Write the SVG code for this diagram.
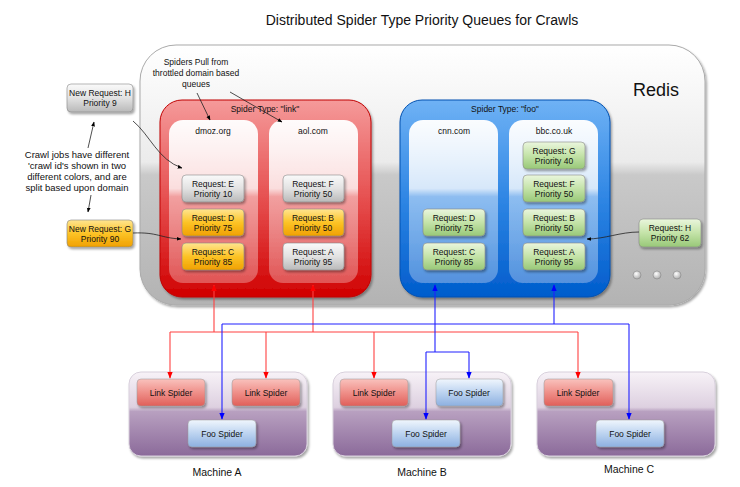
<svg xmlns="http://www.w3.org/2000/svg" width="740" height="487" viewBox="0 0 740 487">
<defs>
<linearGradient id="gRedis" x1="0" y1="0" x2="0" y2="1">
<stop offset="0" stop-color="#ffffff"/><stop offset="0.45" stop-color="#ebebeb"/><stop offset="0.5" stop-color="#c9c9c9"/><stop offset="1" stop-color="#b3b3b3"/>
</linearGradient>
<linearGradient id="gRed" x1="0" y1="0" x2="0" y2="1">
<stop offset="0" stop-color="#f59a9a"/><stop offset="0.5" stop-color="#e65050"/><stop offset="1" stop-color="#d00000"/>
</linearGradient>
<linearGradient id="gBlue" x1="0" y1="0" x2="0" y2="1">
<stop offset="0" stop-color="#6fb2f5"/><stop offset="0.5" stop-color="#2f86e4"/><stop offset="1" stop-color="#005ccc"/>
</linearGradient>
<linearGradient id="gCol" x1="0" y1="0" x2="0" y2="1">
<stop offset="0" stop-color="#ffffff" stop-opacity="0.97"/><stop offset="0.42" stop-color="#ffffff" stop-opacity="0.8"/><stop offset="0.47" stop-color="#ffffff" stop-opacity="0.45"/><stop offset="1" stop-color="#ffffff" stop-opacity="0.3"/>
</linearGradient>
<linearGradient id="gGray" x1="0" y1="0" x2="0" y2="1">
<stop offset="0" stop-color="#fafafa"/><stop offset="0.5" stop-color="#e2e2e2"/><stop offset="1" stop-color="#b9b9b9"/>
</linearGradient>
<linearGradient id="gOrange" x1="0" y1="0" x2="0" y2="1">
<stop offset="0" stop-color="#ffe590"/><stop offset="0.5" stop-color="#fcc326"/><stop offset="1" stop-color="#f0a000"/>
</linearGradient>
<linearGradient id="gGreen" x1="0" y1="0" x2="0" y2="1">
<stop offset="0" stop-color="#eaf6dd"/><stop offset="0.5" stop-color="#c4e3a8"/><stop offset="1" stop-color="#98c878"/>
</linearGradient>
<linearGradient id="gMach" x1="0" y1="0" x2="0" y2="1">
<stop offset="0" stop-color="#f7f2f7"/><stop offset="0.42" stop-color="#ddd0e0"/><stop offset="0.47" stop-color="#b8a0c0"/><stop offset="1" stop-color="#8b6a9a"/>
</linearGradient>
<linearGradient id="gLink" x1="0" y1="0" x2="0" y2="1">
<stop offset="0" stop-color="#f9c2bd"/><stop offset="0.5" stop-color="#ef8f89"/><stop offset="1" stop-color="#e05f59"/>
</linearGradient>
<linearGradient id="gFoo" x1="0" y1="0" x2="0" y2="1">
<stop offset="0" stop-color="#f0f6fd"/><stop offset="0.5" stop-color="#bcd3f0"/><stop offset="1" stop-color="#8db0e0"/>
</linearGradient>
<radialGradient id="gDot" cx="0.4" cy="0.35" r="0.7">
<stop offset="0" stop-color="#ffffff"/><stop offset="1" stop-color="#a8a8a8"/>
</radialGradient>
<filter id="sh" x="-10%" y="-10%" width="130%" height="140%">
<feDropShadow dx="1.5" dy="2" stdDeviation="1.2" flood-color="#000" flood-opacity="0.35"/>
</filter>
<marker id="aBk" viewBox="0 0 10 10" refX="9" refY="5" markerWidth="6" markerHeight="6" orient="auto-start-reverse"><path d="M0,1 L10,5 L0,9 z" fill="#000"/></marker>
<marker id="aRd" viewBox="0 0 10 10" refX="9" refY="5" markerWidth="6" markerHeight="6" orient="auto-start-reverse"><path d="M0,1 L10,5 L0,9 z" fill="#ff0000"/></marker>
<marker id="aBl" viewBox="0 0 10 10" refX="9" refY="5" markerWidth="6" markerHeight="6" orient="auto-start-reverse"><path d="M0,1 L10,5 L0,9 z" fill="#0000ff"/></marker>
</defs>
<style>
text{font-family:"Liberation Sans",Arial,sans-serif;fill:#111;text-anchor:middle}
.t8{font-size:8.5px}
.t9{font-size:9.5px}
.req{stroke:#888;stroke-width:0.6;filter:url(#sh)}
.sp{stroke:#999;stroke-width:0.5;filter:url(#sh)}
.red{fill:none;stroke:#ff4040;stroke-width:1.1}
.blue{fill:none;stroke:#2020ff;stroke-width:1.1}
.blk{fill:none;stroke:#222;stroke-width:0.8}
</style>
<rect width="740" height="487" fill="#ffffff"/>
<text x="422" y="25" style="font-size:14px">Distributed Spider Type Priority Queues for Crawls</text>

<g id="redis">
<rect x="140" y="45" width="565" height="260" rx="36" fill="url(#gRedis)" stroke="#aaa" stroke-width="1" filter="url(#sh)"/>
<text x="656" y="96" style="font-size:18px">Redis</text>
<circle cx="637" cy="275" r="4" fill="url(#gDot)" stroke="#888" stroke-width="0.6"/>
<circle cx="657" cy="275" r="4" fill="url(#gDot)" stroke="#888" stroke-width="0.6"/>
<circle cx="677" cy="275" r="4" fill="url(#gDot)" stroke="#888" stroke-width="0.6"/>
</g>

<g id="link-panel">
<rect x="160" y="100" width="211" height="197" rx="22" fill="url(#gRed)" stroke="#c00000" stroke-width="1" filter="url(#sh)"/>
<text x="265" y="112" class="t8">Spider Type: "link"</text>
<rect x="169" y="120" width="89" height="163" rx="14" fill="url(#gCol)"/>
<text x="213" y="134" class="t8">dmoz.org</text>
<rect x="269" y="120" width="89" height="163" rx="14" fill="url(#gCol)"/>
<text x="313" y="134" class="t8">aol.com</text>
</g>
<g id="req-dmoz-E"><rect x="182" y="175" width="62" height="27" rx="4" fill="url(#gGray)" class="req"/><text x="213" y="187" class="t8">Request: E</text><text x="213" y="197" class="t8">Priority 10</text></g>
<g id="req-dmoz-D"><rect x="182" y="209" width="62" height="27" rx="4" fill="url(#gOrange)" class="req"/><text x="213" y="221" class="t8">Request: D</text><text x="213" y="231" class="t8">Priority 75</text></g>
<g id="req-dmoz-C"><rect x="182" y="243" width="62" height="27" rx="4" fill="url(#gOrange)" class="req"/><text x="213" y="255" class="t8">Request: C</text><text x="213" y="265" class="t8">Priority 85</text></g>
<g id="req-aol-F"><rect x="283" y="175" width="61" height="27" rx="4" fill="url(#gGray)" class="req"/><text x="313" y="187" class="t8">Request: F</text><text x="313" y="197" class="t8">Priority 50</text></g>
<g id="req-aol-B"><rect x="283" y="209" width="61" height="27" rx="4" fill="url(#gOrange)" class="req"/><text x="313" y="221" class="t8">Request: B</text><text x="313" y="231" class="t8">Priority 50</text></g>
<g id="req-aol-A"><rect x="283" y="243" width="61" height="27" rx="4" fill="url(#gGray)" class="req"/><text x="313" y="255" class="t8">Request: A</text><text x="313" y="265" class="t8">Priority 95</text></g>

<g id="foo-panel">
<rect x="400" y="100" width="210" height="197" rx="22" fill="url(#gBlue)" stroke="#0050b0" stroke-width="1" filter="url(#sh)"/>
<text x="505" y="112" class="t8">Spider Type: "foo"</text>
<rect x="409" y="120" width="89" height="163" rx="14" fill="url(#gCol)"/>
<text x="454" y="134" class="t8">cnn.com</text>
<rect x="509" y="120" width="89" height="163" rx="14" fill="url(#gCol)"/>
<text x="554" y="134" class="t8">bbc.co.uk</text>
</g>
<g id="req-cnn-D"><rect x="423" y="209" width="62" height="27" rx="4" fill="url(#gGreen)" class="req"/><text x="454" y="221" class="t8">Request: D</text><text x="454" y="231" class="t8">Priority 75</text></g>
<g id="req-cnn-C"><rect x="423" y="243" width="62" height="27" rx="4" fill="url(#gGreen)" class="req"/><text x="454" y="255" class="t8">Request: C</text><text x="454" y="265" class="t8">Priority 85</text></g>
<g id="req-bbc-G"><rect x="523" y="142" width="62" height="27" rx="4" fill="url(#gGreen)" class="req"/><text x="554" y="154" class="t8">Request: G</text><text x="554" y="164" class="t8">Priority 40</text></g>
<g id="req-bbc-F"><rect x="523" y="175" width="62" height="27" rx="4" fill="url(#gGreen)" class="req"/><text x="554" y="187" class="t8">Request: F</text><text x="554" y="197" class="t8">Priority 50</text></g>
<g id="req-bbc-B"><rect x="523" y="209" width="62" height="27" rx="4" fill="url(#gGreen)" class="req"/><text x="554" y="221" class="t8">Request: B</text><text x="554" y="231" class="t8">Priority 50</text></g>
<g id="req-bbc-A"><rect x="523" y="243" width="62" height="27" rx="4" fill="url(#gGreen)" class="req"/><text x="554" y="255" class="t8">Request: A</text><text x="554" y="265" class="t8">Priority 95</text></g>

<g id="req-H-right"><rect x="639" y="219" width="62" height="28" rx="4" fill="url(#gGreen)" class="req"/><text x="670" y="231" class="t8">Request: H</text><text x="670" y="241" class="t8">Priority 62</text></g>
<g id="new-req-H"><rect x="67" y="84" width="66" height="28" rx="4" fill="url(#gGray)" class="req"/><text x="100" y="96" class="t8">New Request: H</text><text x="100" y="106" class="t8">Priority 9</text></g>
<g id="new-req-G"><rect x="67" y="220" width="66" height="27" rx="4" fill="url(#gOrange)" class="req"/><text x="100" y="232" class="t8">New Request: G</text><text x="100" y="242" class="t8">Priority 90</text></g>

<g id="note-crawl">
<text x="77" y="158" class="t9">Crawl jobs have different</text>
<text x="77" y="169" class="t9">'crawl id's shown in two</text>
<text x="77" y="180" class="t9">different colors, and are</text>
<text x="77" y="191" class="t9">split based upon domain</text>
</g>
<g id="note-pull">
<text x="196" y="65" class="t8">Spiders Pull from</text>
<text x="196" y="76" class="t8">throttled domain based</text>
<text x="196" y="87" class="t8">queues</text>
</g>

<g id="machine-A">
<rect x="129" y="372" width="178" height="84" rx="12" fill="url(#gMach)" stroke="#d8d0dc" stroke-width="1" filter="url(#sh)"/>
<rect x="137" y="379" width="68" height="27" rx="4" fill="url(#gLink)" class="sp"/><text x="171" y="396" class="t8">Link Spider</text>
<rect x="232" y="379" width="68" height="27" rx="4" fill="url(#gLink)" class="sp"/><text x="266" y="396" class="t8">Link Spider</text>
<rect x="188" y="420" width="68" height="27" rx="4" fill="url(#gFoo)" class="sp"/><text x="222" y="437" class="t8">Foo Spider</text>
<text x="217" y="476" style="font-size:10.5px">Machine A</text>
</g>
<g id="machine-B">
<rect x="333" y="372" width="178" height="84" rx="12" fill="url(#gMach)" stroke="#d8d0dc" stroke-width="1" filter="url(#sh)"/>
<rect x="340" y="379" width="68" height="27" rx="4" fill="url(#gLink)" class="sp"/><text x="374" y="396" class="t8">Link Spider</text>
<rect x="436" y="379" width="67" height="27" rx="4" fill="url(#gFoo)" class="sp"/><text x="469" y="396" class="t8">Foo Spider</text>
<rect x="392" y="420" width="68" height="27" rx="4" fill="url(#gFoo)" class="sp"/><text x="426" y="437" class="t8">Foo Spider</text>
<text x="422" y="476" style="font-size:10.5px">Machine B</text>
</g>
<g id="machine-C">
<rect x="537" y="372" width="178" height="84" rx="12" fill="url(#gMach)" stroke="#d8d0dc" stroke-width="1" filter="url(#sh)"/>
<rect x="544" y="379" width="69" height="27" rx="4" fill="url(#gLink)" class="sp"/><text x="578" y="396" class="t8">Link Spider</text>
<rect x="596" y="420" width="68" height="27" rx="4" fill="url(#gFoo)" class="sp"/><text x="630" y="437" class="t8">Foo Spider</text>
<text x="629" y="473" style="font-size:10.5px">Machine C</text>
</g>

<g id="connectors">
<path class="blk" d="M88,148 L94,122" marker-end="url(#aBk)"/>
<path class="blk" d="M91,195 L88,212" marker-end="url(#aBk)"/>
<path class="blk" d="M133,121 C150,135 158,160 182,168" marker-end="url(#aBk)"/>
<path class="blk" d="M133,233 C158,232 160,238 181,239" marker-end="url(#aBk)"/>
<path class="blk" d="M639,232 C620,232 605,239 587,239" marker-end="url(#aBk)"/>
<path class="blk" d="M197,93 L210,120" marker-end="url(#aBk)"/>
<path class="blk" d="M230,92 L282,122" marker-end="url(#aBk)"/>

<path class="red" d="M214,332 L214,285" marker-end="url(#aRd)"/>
<path class="red" d="M313,332 L313,285" marker-end="url(#aRd)"/>
<path class="red" d="M170,332 L578,332"/>
<path class="red" d="M170,332 L170,378" marker-end="url(#aRd)"/>
<path class="red" d="M266,332 L266,378" marker-end="url(#aRd)"/>
<path class="red" d="M374,332 L374,378" marker-end="url(#aRd)"/>
<path class="red" d="M578,332 L578,378" marker-end="url(#aRd)"/>

<path class="blue" d="M435,352 L435,285" marker-end="url(#aBl)"/>
<path class="blue" d="M554,324 L554,285" marker-end="url(#aBl)"/>
<path class="blue" d="M222,324 L629,324"/>
<path class="blue" d="M222,324 L222,419" marker-end="url(#aBl)"/>
<path class="blue" d="M629,324 L629,419" marker-end="url(#aBl)"/>
<path class="blue" d="M426,352 L469,352"/>
<path class="blue" d="M426,352 L426,419" marker-end="url(#aBl)"/>
<path class="blue" d="M469,352 L469,378" marker-end="url(#aBl)"/>
</g>
</svg>
